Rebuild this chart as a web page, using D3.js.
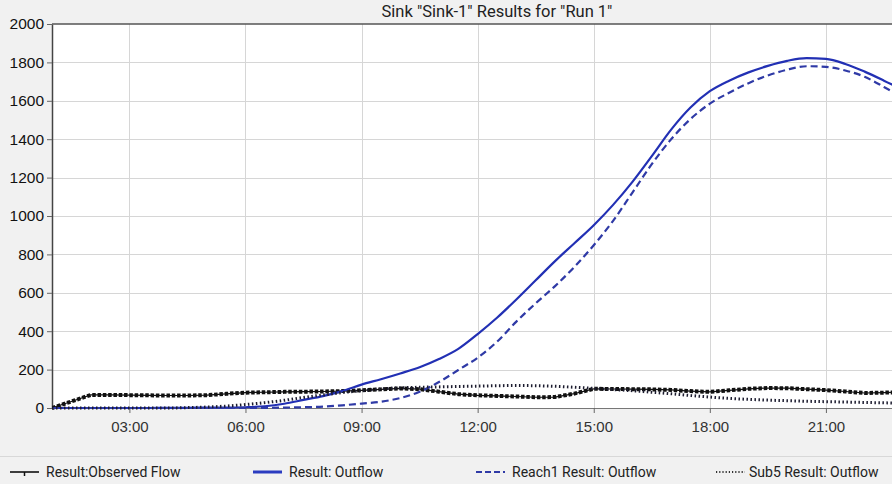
<!DOCTYPE html>
<html>
<head>
<meta charset="utf-8">
<script src="https://cdn.jsdelivr.net/npm/d3@7"></script>
<style>
  html, body { margin: 0; padding: 0; background: #f1f1f1; }
  svg { display: block; font-family: Roboto, "Noto Sans", sans-serif; }
</style>
</head>
<body>
<script>
// hours since midnight (half-hour samples)
const hours = [1, 1.5, 2, 2.5, 3, 3.5, 4, 4.5, 5, 5.5, 6, 6.5, 7, 7.5, 8, 8.5, 9, 9.5, 10, 10.5,
  11, 11.5, 12, 12.5, 13, 13.5, 14, 14.5, 15, 15.5, 16, 16.5, 17, 17.5, 18, 18.5, 19, 19.5, 20, 20.5,
  21, 21.5, 22, 22.5, 23]

const observedFlow = [0, 34, 68, 68, 67, 66, 65, 65, 67, 74, 80, 82, 84, 85, 86, 88, 92, 97, 102, 98,
  85, 72, 66, 63, 60, 56, 57, 75, 100, 99, 98, 97, 94, 88, 84, 92, 100, 104, 103, 98,
  93, 86, 78, 80, 83]

const resultOutflow = [0, 0, 0, 0, 0, 0, 1, 1, 2, 2, 4, 9, 22, 42, 62, 88, 122, 150, 180, 212,
  255, 308, 385, 470, 565, 665, 765, 858, 952, 1058, 1178, 1312, 1450, 1565, 1650, 1705, 1748, 1782, 1808, 1822,
  1818, 1792, 1752, 1705, 1655]

const reach1Outflow = [0, 0, 0, 0, 0, 0, 0, 0, 0, 0, 0, 1, 2, 4, 7, 14, 23, 33, 52, 85,
  135, 198, 262, 345, 450, 545, 635, 735, 848, 975, 1122, 1270, 1400, 1505, 1585, 1642, 1692, 1732, 1762, 1780,
  1777, 1758, 1725, 1672, 1615]

const sub5Outflow = [0, 0, 0, 0, 0, 0, 0, 2, 5, 10, 18, 28, 40, 55, 68, 80, 90, 99, 105, 108,
  110, 112, 114, 116, 117, 116, 113, 108, 102, 96, 90, 82, 74, 65, 57, 50, 45, 41, 38, 35,
  33, 31, 29, 27, 25]

const seriesNames = ["Result:Observed Flow", "Result: Outflow", "Reach1 Result: Outflow", "Sub5 Result: Outflow"]
const yTicks = [0, 200, 400, 600, 800, 1000, 1200, 1400, 1600, 1800, 2000]
const title = 'Sink "Sink-1" Results for "Run 1"'

const width = 892, height = 484
const marginLeft = 52, marginTop = 24, plotBottom = 408, plotRight = 942

const day = Date.UTC(2000, 0, 1)
const toDate = h => new Date(day + h * 3600e3)

const x = d3.scaleUtc([toDate(1), toDate(24)], [marginLeft, plotRight])
const y = d3.scaleLinear([0, 2000], [plotBottom, marginTop])

const svg = d3.select("body").append("svg")
  .attr("width", width)
  .attr("height", height)
  .attr("viewBox", [0, 0, width, height])

svg.append("rect").attr("width", width).attr("height", height).attr("fill", "#f1f1f1")
svg.append("rect")
  .attr("x", marginLeft).attr("y", marginTop)
  .attr("width", plotRight - marginLeft).attr("height", plotBottom - marginTop)
  .attr("fill", "#ffffff")

// title
svg.append("text")
  .attr("x", (marginLeft + plotRight) / 2)
  .attr("y", 17)
  .attr("text-anchor", "middle")
  .attr("font-size", 16.5)
  .attr("fill", "#222")
  .text(title)

const xTicks = x.ticks(d3.utcHour.every(3)).filter(d => d > x.domain()[0] && d < x.domain()[1])

// grid
svg.append("g")
  .attr("stroke", "#d6d6d6")
  .attr("stroke-width", 1)
  .call(g => g.selectAll("line.v").data(xTicks).join("line")
    .attr("x1", d => Math.round(x(d)) + 0.5).attr("x2", d => Math.round(x(d)) + 0.5)
    .attr("y1", marginTop).attr("y2", plotBottom))
  .call(g => g.selectAll("line.h").data(yTicks.slice(1, -1)).join("line")
    .attr("x1", marginLeft).attr("x2", plotRight)
    .attr("y1", d => Math.round(y(d)) + 0.5).attr("y2", d => Math.round(y(d)) + 0.5))

// y axis
svg.append("g")
  .attr("transform", `translate(${marginLeft},0)`)
  .call(d3.axisLeft(y).tickValues(yTicks).tickFormat(d3.format("d")).tickSize(5).tickPadding(3).tickSizeOuter(0))
  .call(g => g.select(".domain").attr("stroke", "#444").attr("stroke-width", 1.5))
  .call(g => g.selectAll(".tick line").attr("stroke", "#666"))
  .call(g => g.selectAll("text").attr("font-size", 15.5).attr("fill", "#111").attr("font-family", null))

// x axis
svg.append("g")
  .attr("transform", `translate(0,${plotBottom})`)
  .call(d3.axisBottom(x).tickValues(xTicks).tickFormat(d3.utcFormat("%H:%M")).tickSize(5).tickPadding(8).tickSizeOuter(0))
  .call(g => g.select(".domain").attr("stroke", "#777"))
  .call(g => g.selectAll(".tick line").attr("stroke", "#666"))
  .call(g => g.selectAll("text").attr("font-size", 15).attr("fill", "#333").attr("font-family", null))

// top border
svg.append("line")
  .attr("x1", marginLeft).attr("x2", plotRight)
  .attr("y1", marginTop).attr("y2", marginTop)
  .attr("stroke", "#555").attr("stroke-width", 1.5)

// series
svg.append("clipPath").attr("id", "plot")
  .append("rect").attr("x", marginLeft).attr("y", marginTop - 2)
  .attr("width", plotRight - marginLeft).attr("height", plotBottom - marginTop + 4)

const lineOf = (values, curve) => d3.line()
  .x((d, i) => x(toDate(hours[i])))
  .y(d => y(d))
  .curve(curve)(values)

const plot = svg.append("g").attr("clip-path", "url(#plot)").attr("fill", "none")

plot.append("path")
  .attr("d", lineOf(observedFlow, d3.curveLinear))
  .attr("stroke", "#111").attr("stroke-width", 1.2)
plot.append("path")
  .attr("d", lineOf(observedFlow, d3.curveLinear))
  .attr("stroke", "#111").attr("stroke-width", 4).attr("stroke-dasharray", "3.5,1.8")

plot.append("path")
  .attr("d", lineOf(resultOutflow, d3.curveMonotoneX))
  .attr("stroke", "#2230b4").attr("stroke-width", 2.2)

plot.append("path")
  .attr("d", lineOf(reach1Outflow, d3.curveMonotoneX))
  .attr("stroke", "#2f3aa6").attr("stroke-width", 2.2).attr("stroke-dasharray", "7,4")

plot.append("path")
  .attr("d", lineOf(sub5Outflow, d3.curveMonotoneX))
  .attr("stroke", "#1b1b2e").attr("stroke-width", 3).attr("stroke-dasharray", "1.5,2.5")

// legend
svg.append("line")
  .attr("x1", 0).attr("x2", width).attr("y1", 456.5).attr("y2", 456.5)
  .attr("stroke", "#d8d8d8")

const legendX = [10, 253, 476, 716]
const legendStyles = [
  {stroke: "#111", dash: null, width: 1.6},
  {stroke: "#2b3cc0", dash: null, width: 3},
  {stroke: "#2f3aa6", dash: "6,3", width: 2.2},
  {stroke: "#333", dash: "1.2,2", width: 2.2}
]
const legend = svg.append("g").selectAll("g")
  .data(seriesNames)
  .join("g")
  .attr("transform", (d, i) => `translate(${legendX[i]},472)`)

legend.append("line")
  .attr("x1", 0).attr("x2", 29)
  .attr("stroke", (d, i) => legendStyles[i].stroke)
  .attr("stroke-width", (d, i) => legendStyles[i].width)
  .attr("stroke-dasharray", (d, i) => legendStyles[i].dash)
legend.filter((d, i) => i === 0).append("line")
  .attr("x1", 14.5).attr("x2", 14.5).attr("y1", 0).attr("y2", 4)
  .attr("stroke", "#111").attr("stroke-width", 1.5)

legend.append("text")
  .attr("x", (d, i) => i === 3 ? 33 : 36)
  .attr("y", 5)
  .attr("font-size", 14)
  .attr("fill", "#222")
  .text(d => d)
</script>
</body>
</html>
